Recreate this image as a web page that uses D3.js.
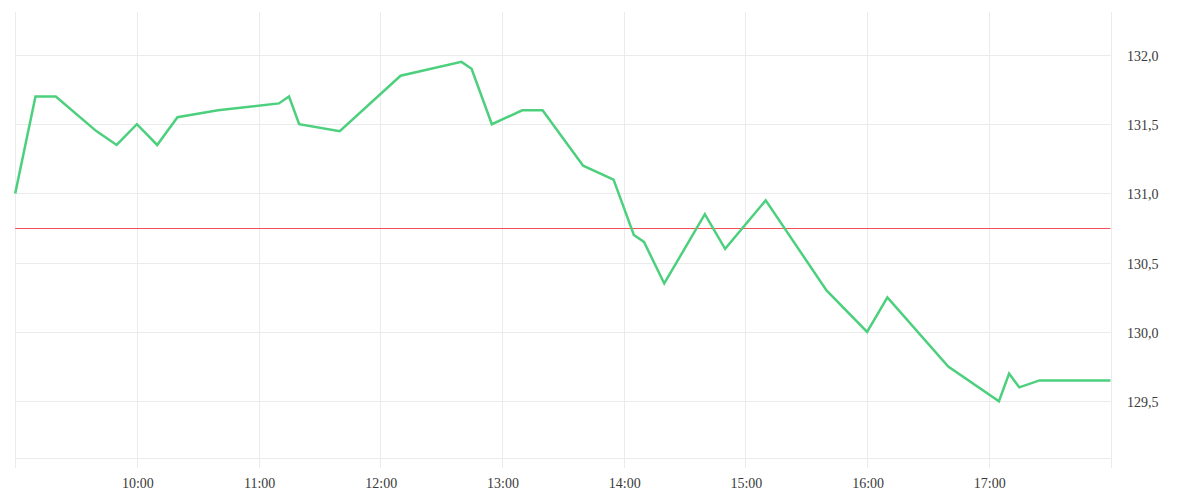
<!DOCTYPE html>
<html>
<head>
<meta charset="utf-8">
<script src="https://cdn.jsdelivr.net/npm/d3@7"></script>
<style>
  html, body { margin: 0; padding: 0; background: #fff; }
  svg { display: block; }
  .lbl { font-family: "Liberation Serif", serif; font-size: 14px; fill: #3a3a3a; }
</style>
</head>
<body>
<svg id="chart" width="1200" height="500"></svg>
<script>
const times = ["09:00","09:10","09:20","09:40","09:50","10:00","10:10","10:20","10:40","11:10","11:15","11:20","11:40","12:10","12:40","12:45","12:55","13:10","13:20","13:40","13:55","14:05","14:10","14:20","14:40","14:50","15:10","15:40","16:00","16:10","16:40","17:05","17:10","17:15","17:25","18:00"];
const prices = [131.0,131.7,131.7,131.45,131.35,131.5,131.35,131.55,131.6,131.65,131.7,131.5,131.45,131.85,131.95,131.9,131.5,131.6,131.6,131.2,131.1,130.7,130.65,130.35,130.85,130.6,130.95,130.3,130.0,130.25,129.75,129.5,129.7,129.6,129.65,129.65];
const refValue = 130.75;
const yTicks = [129.5,130.0,130.5,131.0,131.5,132.0];
const xTickHours = ["09:00","10:00","11:00","12:00","13:00","14:00","15:00","16:00","17:00","18:00"];
const xLabelHours = ["10:00","11:00","12:00","13:00","14:00","15:00","16:00","17:00"];
const timeDomain = ["09:00","18:00"];
const yDomain = [129.09, 132.31];

const parse = s => { const [h,m] = s.split(":").map(Number); return new Date(2024,0,1,h,m); };
const data = times.map((t,i)=>({t:parse(t), v:prices[i]}));

const L = 15.2, R = 1110.5, T = 12, B = 458;
const svg = d3.select("#chart");
const x = d3.scaleTime().domain(timeDomain.map(parse)).range([L, R]);
const y = d3.scaleLinear().domain(yDomain).range([B, T]);
const grid = "#ebebeb";
const crisp = v => Math.round(v) + 0.5;

// horizontal grid
svg.append("g").selectAll("line").data(yTicks).join("line")
  .attr("x1", L).attr("x2", R)
  .attr("y1", d => crisp(y(d))).attr("y2", d => crisp(y(d)))
  .attr("stroke", grid).attr("stroke-width", 1);
// bottom line
svg.append("line").attr("x1", L).attr("x2", R).attr("y1", B + 0.5).attr("y2", B + 0.5)
  .attr("stroke", grid);

// vertical grid + ticks
svg.append("g").selectAll("line").data(xTickHours.map(parse)).join("line")
  .attr("x1", d => crisp(x(d))).attr("x2", d => crisp(x(d)))
  .attr("y1", T).attr("y2", B + 10)
  .attr("stroke", grid).attr("stroke-width", 1);

// x labels
svg.append("g").selectAll("text").data(xLabelHours).join("text")
  .attr("class", "lbl")
  .attr("x", d => x(parse(d)) + 1).attr("y", 488)
  .attr("text-anchor", "middle")
  .text(d => d);

// y labels
const fmt = d3.format(".1f");
svg.append("g").selectAll("text").data(yTicks).join("text")
  .attr("class", "lbl")
  .attr("x", 1127).attr("y", d => y(d) + 6)
  .text(d => fmt(d).replace(".", ","));

// reference line
svg.append("line")
  .attr("x1", L).attr("x2", R)
  .attr("y1", crisp(y(refValue))).attr("y2", crisp(y(refValue)))
  .attr("stroke", "#f4505a").attr("stroke-width", 1);

// price line
const line = d3.line().x(d => x(d.t)).y(d => y(d.v));
svg.append("path").datum(data)
  .attr("d", line)
  .attr("fill", "none")
  .attr("stroke", "#4cd07d")
  .attr("stroke-width", 2.5)
  .attr("stroke-linejoin", "miter");
</script>
</body>
</html>
